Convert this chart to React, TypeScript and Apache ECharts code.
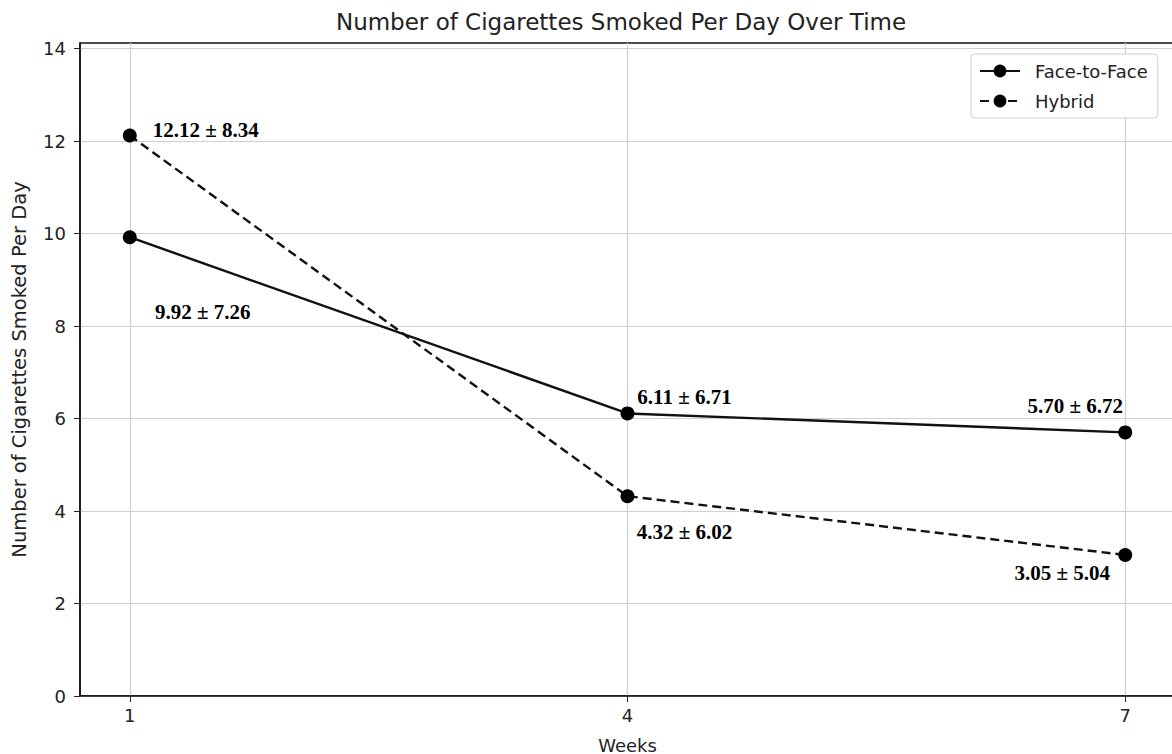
import React, { useEffect, useRef } from "react";
import * as echarts from "echarts";

const weeks = [1, 4, 7];
const faceMeans = [9.92, 6.11, 5.7];
const faceSDs = [7.26, 6.71, 6.72];
const hybridMeans = [12.12, 4.32, 3.05];
const hybridSDs = [8.34, 6.02, 5.04];
const yTicks = [0, 2, 4, 6, 8, 10, 12, 14];
const seriesNames = ["Face-to-Face", "Hybrid"];
const titleText = "Number of Cigarettes Smoked Per Day Over Time";
const xName = "Weeks";
const yName = "Number of Cigarettes Smoked Per Day";

// label placement (pixel offsets from the marker centre), layout only
const faceLabelOffsets = [[73, 75], [57, -16], [-50, -26]];
const hybridLabelOffsets = [[76, -5], [57, 36], [-63, 18]];

const SANS = "DejaVu Sans";
const SERIF = "Liberation Serif";

function buildData(means: number[], sds: number[], offsets: number[][]) {
  return weeks.map((w, i) => ({
    value: [w, means[i]],
    label: {
      show: true,
      position: "inside",
      offset: offsets[i],
      formatter: `${means[i].toFixed(2)} ± ${sds[i].toFixed(2)}`,
      color: "#000",
      fontFamily: SERIF,
      fontWeight: "bold",
      fontSize: 21,
    },
  }));
}

export default function App() {
  const ref = useRef<HTMLDivElement>(null);
  useEffect(() => {
    if (!ref.current) return;
    const chart = echarts.init(ref.current, undefined, { renderer: "svg" });
    chart.setOption({
      animation: false,
      backgroundColor: "#fff",
      graphic: [
        {
          type: "text",
          x: 621,
          y: 22,
          style: {
            text: titleText,
            fontFamily: SANS,
            fontSize: 23,
            fill: "#222",
            align: "center",
            verticalAlign: "middle",
          },
        },
      ],
      legend: {
        data: seriesNames,
        orient: "vertical",
        left: 971,
        top: 54,
        itemWidth: 40,
        itemHeight: 16,
        itemGap: 12,
        backgroundColor: "#fff",
        borderColor: "#d0d0d0",
        borderWidth: 1,
        borderRadius: 4,
        padding: [8, 10, 8, 8],
        textStyle: { fontFamily: SANS, fontSize: 18, color: "#222", padding: [0, 0, 0, 10] },
      },
      grid: {
        left: 80,
        top: 43,
        right: 5,
        bottom: 58,
        outerBoundsMode: "none",
        containLabel: false,
        show: true,
        borderColor: "#111",
        borderWidth: 1.5,
        backgroundColor: "transparent",
      },
      xAxis: {
        type: "value",
        min: 0.7,
        max: 7.3,
        name: xName,
        nameLocation: "middle",
        nameGap: 40,
        nameTextStyle: { fontFamily: SANS, fontSize: 18, color: "#222" },
        axisLine: { show: true, lineStyle: { color: "#111", width: 1.5 } },
        axisTick: { show: true, length: 6, customValues: weeks, lineStyle: { color: "#222" } },
        axisLabel: {
          customValues: weeks,
          margin: 10,
          fontFamily: SANS,
          fontSize: 18,
          color: "#222",
        },
        splitLine: { show: true, lineStyle: { color: "#d0d0d0", width: 1.2 } },
      },
      yAxis: {
        type: "value",
        min: 0,
        max: 14.12,
        name: yName,
        nameLocation: "middle",
        nameGap: 51,
        nameTextStyle: { fontFamily: SANS, fontSize: 19.5, color: "#222" },
        axisLine: { show: true, lineStyle: { color: "#111", width: 1.5 } },
        axisTick: { show: true, length: 6, customValues: yTicks, lineStyle: { color: "#222" } },
        axisLabel: {
          customValues: yTicks,
          margin: 14,
          fontFamily: SANS,
          fontSize: 18,
          color: "#222",
        },
        splitLine: { show: true, lineStyle: { color: "#d0d0d0", width: 1.2 } },
      },
      series: [
        {
          name: seriesNames[0],
          type: "line",
          data: buildData(faceMeans, faceSDs, faceLabelOffsets),
          symbol: "circle",
          symbolSize: 14,
          color: "#000",
          itemStyle: { color: "#000" },
          lineStyle: { color: "#111", width: 2.4, type: "solid" },
          z: 3,
        },
        {
          name: seriesNames[1],
          type: "line",
          data: buildData(hybridMeans, hybridSDs, hybridLabelOffsets),
          symbol: "circle",
          symbolSize: 14,
          color: "#000",
          itemStyle: { color: "#000" },
          lineStyle: { color: "#111", width: 2.4, type: [9, 5] },
          z: 3,
        },
      ],
    });
    return () => chart.dispose();
  }, []);
  return (
    <div style={{ position: "fixed", left: 0, top: 0, width: 1172, height: 754, overflow: "hidden", background: "#fff" }}>
      <div ref={ref} style={{ width: 1180, height: 754 }} />
    </div>
  );
}
